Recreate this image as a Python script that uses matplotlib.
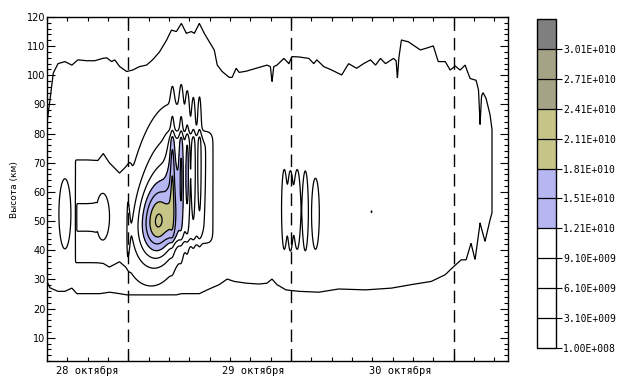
import numpy as np
import matplotlib
matplotlib.use("Agg")
import matplotlib.pyplot as plt

# ---- data (time in hours from 00:00 28 Oct, height in km, density in 1e9) ----
# upper and lower boundary of the detected layer
t_top = [12.0, 12.44, 12.93, 13.62, 14.64, 15.67, 16.55, 17.87, 19.05, 20.22, 20.81,
         21.54, 21.99, 22.72, 23.75, 24.63, 25.66, 26.68, 27.57, 28.59, 29.62, 30.36,
         31.09, 31.82, 32.56, 33.29, 33.73, 34.47, 35.20, 35.94, 36.67, 37.11, 37.84,
         38.87, 39.31, 39.90, 40.34, 41.37, 42.25, 43.72, 44.45, 44.95, 45.19, 45.45,
         45.92, 46.95, 47.68, 48.12, 49.15, 50.62, 51.35, 51.79, 52.82, 54.00, 55.47,
         56.49, 57.67, 58.70, 59.72, 60.46, 61.19, 61.93, 63.10, 63.50, 63.69, 63.90,
         64.28, 65.30, 67.07, 67.95, 68.98, 69.71, 70.74, 71.47, 72.21, 72.94, 73.67,
         74.41, 75.29, 75.65, 75.88, 76.10, 76.32, 76.76, 77.35, 77.64]
z_top = [83.7, 91.6, 100.8, 104.0, 104.7, 103.5, 105.3, 105.0, 105.0, 105.8, 106.0,
         104.7, 105.3, 103.0, 101.3, 101.8, 103.0, 103.5, 105.3, 108.0, 112.0, 115.5,
         115.0, 117.8, 114.4, 115.0, 114.4, 117.8, 114.4, 111.5, 108.7, 103.5, 101.3,
         99.3, 99.3, 102.4, 101.0, 101.4, 102.0, 103.0, 103.5, 103.0, 97.8, 103.0,
         103.5, 105.8, 104.0, 106.4, 106.3, 105.8, 104.0, 105.3, 103.0, 101.8, 100.1,
         104.0, 102.4, 104.0, 105.3, 103.5, 105.8, 104.0, 105.8, 105.0, 98.9, 106.0,
         112.1, 111.5, 108.7, 109.3, 110.1, 104.7, 104.7, 101.8, 103.2, 101.8, 103.5,
         98.9, 98.3, 95.0, 83.2, 93.0, 94.0, 92.1, 86.5, 81.4]
t_bot = [12.0, 12.44, 13.62, 14.64, 15.67, 16.41, 19.78, 21.25, 22.72, 23.75, 27.12,
         31.09, 31.82, 34.47, 35.64, 37.40, 38.58, 39.61, 41.37, 43.28, 44.45, 45.19,
         45.92, 47.24, 49.15, 52.09, 55.03, 59.00, 62.80, 65.74, 68.68, 70.74, 71.76,
         73.09, 73.82, 74.55, 75.14, 75.88, 76.61, 77.35, 77.64]
z_bot = [29.3, 27.1, 25.9, 25.9, 27.0, 25.1, 25.1, 25.6, 25.1, 24.7, 24.7,
         24.7, 25.1, 25.1, 26.4, 28.2, 30.1, 29.3, 28.7, 28.4, 28.7, 30.1,
         28.2, 26.4, 25.9, 25.6, 26.7, 26.4, 27.0, 28.2, 29.3, 31.6, 33.9,
         36.7, 36.7, 42.4, 36.7, 49.3, 43.0, 50.4, 52.8]
t_end = 77.64
base_level = 1.5

# shelf of moderate density ahead of the main event
t_shelf = [16.2, 18.0, 19.5, 20.3, 21.2, 22.7, 24.2]
shelf_top = [71.0, 71.0, 70.8, 73.2, 70.0, 66.5, 70.0]
shelf_bot = [35.7, 35.7, 35.7, 35.5, 34.2, 36.0, 33.0]
shelf_amp = 3.0

# rectangular layers: t0, t1, z0, z1, amplitude, edge width (h), edge width (km)
box_t0 = [16.40, 29.8]
box_t1 = [19.30, 36.3]
box_z0 = [46.5, 43.0]
box_z1 = [56.0, 80.0]
box_amp = [3.0, 4.5]
box_wt = [0.08, 0.55]
box_wz = [0.4, 2.0]

# main event: compact core plus a broad, upward-tilted halo
main_t, main_z = 28.45, 50.0
main_start = 23.75
core_amp, core_st, core_sz = 8.0, 1.6, 7.0
halo_amp = 12.1
halo_st_left, halo_st_right = 2.6, 2.3
halo_sz_lo, halo_sz_hi = 11.0, 20.0
halo_tilt = 0.05

# compact enhancements: centre time, centre height, time width, height width, amplitude
blob_t = [14.64, 20.22, 30.5, 31.8, 32.7, 33.6, 34.5,
          47.0, 47.9, 48.9, 50.1, 51.6, 59.87]
blob_z = [52.5, 51.5, 68.0, 69.0, 68.0, 68.0, 69.0,
          54.0, 53.5, 54.0, 53.5, 52.5, 53.2]
blob_st = [0.75, 0.85, 0.22, 0.22, 0.22, 0.22, 0.22,
           0.28, 0.28, 0.34, 0.30, 0.42, 0.08]
blob_sz = [10.2, 6.8, 15.0, 15.0, 15.0, 15.0, 15.0,
           9.5, 9.5, 9.5, 9.5, 9.0, 0.6]
blob_amp = [3.2, 3.2, 4.5, 5.0, 4.5, 4.0, 4.5,
            4.5, 4.5, 4.5, 4.5, 4.0, 1.8]

levels = [0.1, 3.1, 6.1, 9.1, 12.1, 15.1, 18.1, 21.1, 24.1, 27.1, 30.1, 33.1]
band_colors = ['white', 'white', 'white', 'white', '#b6b6f2', '#b6b6f2',
               '#c6c486', '#c6c486', '#a4a385', '#a4a385', '#7f7f7f']
day_lines = [24, 48, 72]
day_labels = ['28 октября', '29 октября', '30 октября']
day_label_t = [18.0, 42.4, 64.1]


def step(x, w):
    return 0.5 * (1.0 + np.tanh(x / w))


T, Z = np.meshgrid(np.arange(12.0, 80.001, 0.04), np.arange(2.0, 120.001, 0.2))
top = np.interp(T, t_top, z_top)
bot = np.interp(T, t_bot, z_bot)
d = np.minimum(np.minimum(Z - bot, top - Z), (t_end - T) * 25.0)
inside = np.clip(d / 2.0, 0.0, 1.0)
F = levels[0] + (base_level - levels[0]) * np.clip(d / 2.0, -1.0, 1.0)

extra = np.zeros_like(F)
s_top = np.interp(T, t_shelf, shelf_top)
s_bot = np.interp(T, t_shelf, shelf_bot)
extra += shelf_amp * step(T - t_shelf[0], 0.08) * step(t_shelf[-1] - T, 0.3) \
    * step(Z - s_bot, 0.5) * step(s_top - Z, 0.5)

for t0, t1, z0, z1, a, wt, wz in zip(box_t0, box_t1, box_z0, box_z1, box_amp, box_wt, box_wz):
    extra += a * step(T - t0, wt) * step(t1 - T, wt) * step(Z - z0, wz) * step(z1 - Z, wz)

onset = step(T - main_start, 0.12)
extra += core_amp * np.exp(-0.5 * ((T - main_t) / core_st) ** 2
                           - 0.5 * ((Z - main_z) / core_sz) ** 2) * onset
tc = main_t + halo_tilt * (Z - main_z)
st = np.where(T < tc, halo_st_left, halo_st_right)
sz = np.where(Z < main_z, halo_sz_lo, halo_sz_hi)
extra += halo_amp * np.exp(-0.5 * ((T - tc) / st) ** 2 - 0.5 * ((Z - main_z) / sz) ** 2) * onset

for t0, z0, stb, szb, a in zip(blob_t, blob_z, blob_st, blob_sz, blob_amp):
    extra += a * np.exp(-0.5 * ((T - t0) / stb) ** 2 - 0.5 * ((Z - z0) / szb) ** 2)

F = F + extra * inside

# ---- figure ----
fig = plt.figure(figsize=(6.26, 3.80), dpi=100)
ax = fig.add_axes([47 / 626, 1 - 361 / 380, 461 / 626, 344 / 380])

cf = ax.contourf(T, Z, F, levels=levels, colors=band_colors)
ax.contour(T, Z, F, levels=levels, colors='k', linewidths=0.9)

for x in day_lines:
    ax.axvline(x, color='k', lw=1.0, dashes=(9, 5))

ax.set_xlim(12, 80)
ax.set_ylim(2, 120)
ax.set_xticks(day_lines)
ax.set_xticks(np.arange(12, 81, 3), minor=True)
ax.set_xticklabels([])
ax.set_yticks(np.arange(10, 121, 10))
ax.set_yticks(np.arange(2, 121, 2), minor=True)
ax.tick_params(which='both', direction='in', top=True, right=True, width=0.8)
ax.tick_params(which='major', length=6, labelsize=7, pad=1)
ax.tick_params(which='minor', length=3)
for sp in ax.spines.values():
    sp.set_linewidth(1.0)

for lab, tx in zip(day_labels, day_label_t):
    ax.text(tx, -0.03, lab, transform=ax.get_xaxis_transform(), ha='center', va='center',
            fontsize=7.5, family='DejaVu Sans Mono')

fig.text(14 / 626, 1 - 190 / 380, 'Высота (км)', rotation=90, ha='center', va='center',
         fontsize=6.5)


def sci(v):
    v = v * 1e9
    e = int(np.floor(np.log10(v)))
    return f"{v / 10 ** e:.2f}E+{e:03d}"


cax = fig.add_axes([537 / 626, 1 - 348 / 380, 19 / 626, 329 / 380])
cb = fig.colorbar(cf, cax=cax, ticks=levels[:-1], drawedges=True)
cb.dividers.set_color('k')
cb.dividers.set_linewidth(0.9)
cb.outline.set_linewidth(1.0)
cb.ax.set_yticklabels([sci(v) for v in levels[:-1]], family='DejaVu Sans Mono', fontsize=7)
cb.ax.tick_params(direction='out', length=4, width=0.8, pad=1)

fig.savefig('out.png', dpi=100)
